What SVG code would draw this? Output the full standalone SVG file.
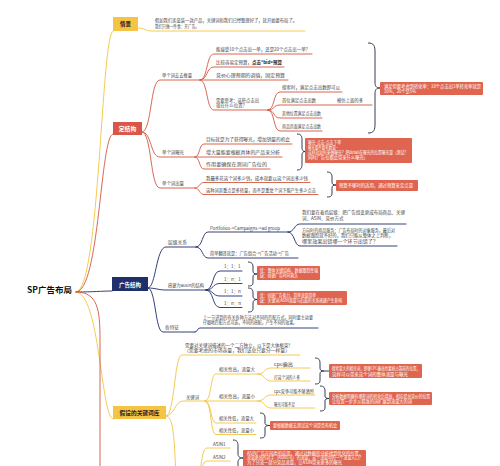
<svg xmlns="http://www.w3.org/2000/svg" width="500" height="466" viewBox="0 0 500 466">
<style>
text{font-family:"Noto Sans CJK SC","Noto Sans",sans-serif}
.t{font-size:4.5px;fill:#444}
.w{font-size:4.3px;fill:#fff}
.bx{font-weight:bold;text-anchor:middle}
.l{fill:none;stroke-width:0.9;stroke-linecap:round}
.lr{stroke:#d4583f}
.ln{stroke:#1f2c69}
.ly{stroke:#f3c443}
.br{fill:none;stroke:#232842;stroke-width:0.9}
.cb{fill:#df6550}
</style>
<rect width="500" height="466" fill="#fff"/>
<g id="connectors">
  <path class="l ly" d="M76 292 C100 292 101 31 113 31"/>
  <path class="l lr" d="M76 292 C100 292 100 134 113 134"/>
  <path class="l ln" d="M76 292 C95 292 100 291 112 291"/>
  <path class="l ly" d="M76 292 C100 292 101 419 113 419"/>
  <path class="l lr" d="M76 292 C98 292 100 310 100 340 L100 470"/>
  <path class="l ly" d="M138 28 C145 28 145 31 152 31 L305 31"/>
  <path class="l lr" d="M142 132 C152 132 150 80 160 80 L200 80"/>
  <path class="l lr" d="M142 132 C152 132 150 157 160 157 L195 157"/>
  <path class="l lr" d="M142 132 C152 132 150 188 160 188 L195 188"/>
  <path class="l lr" d="M200 80 C208 80 206 54 214 54 L312 54"/>
  <path class="l lr" d="M200 80 C208 80 206 67 214 67 L284 67"/>
  <path class="l lr" d="M200 80 L288 80"/>
  <path class="l lr" d="M200 80 C208 80 206 110 214 110 L268 110"/>
  <path class="l lr" d="M268 110 C275 110 273 92 280 92 L342 92"/>
  <path class="l lr" d="M268 110 C275 110 273 105 280 105 L372 105"/>
  <path class="l lr" d="M268 110 C275 110 273 118 280 118 L322 118"/>
  <path class="l lr" d="M268 110 C275 110 273 131 280 131 L322 131"/>
  <path class="l lr" d="M195 157 C200 157 199 144 204 144 L292 144"/>
  <path class="l lr" d="M195 157 L282 157"/>
  <path class="l lr" d="M195 157 C200 157 199 169 204 169 L270 169"/>
  <path class="l lr" d="M195 188 C200 188 199 182.5 204 182.5 L310 182.5"/>
  <path class="l lr" d="M195 188 C200 188 199 194.5 204 194.5 L318 194.5"/>
  <path class="l ln" d="M148 288 C156 288 156 247 166 247 L196 247"/>
  <path class="l ln" d="M148 288 C156 288 158 290 166 290 L206 290"/>
  <path class="l ln" d="M148 288 C156 288 155 332 163 332 L195 332"/>
  <path class="l ln" d="M196 247 C203 247 202 232 208 232 L288 232"/>
  <path class="l ln" d="M196 247 C203 247 202 258 208 258 L298 258"/>
  <path class="l ln" d="M288 232 C295 232 294 224 300 224 L406 224"/>
  <path class="l ln" d="M288 232 C295 232 294 246 300 246 L397 246"/>
  <path class="l ln" d="M206 290 C214 290 212 271 220 271 L242 271"/>
  <path class="l ln" d="M206 290 C214 290 212 283.5 220 283.5 L242 283.5"/>
  <path class="l ln" d="M206 290 C214 290 212 296 220 296 L242 296"/>
  <path class="l ln" d="M206 290 C214 290 212 307.5 220 307.5 L242 307.5"/>
  <path class="l ln" d="M195 332 C198 332 197 328 200 328 L318 328"/>
  <path class="l ly" d="M166 416 C175 416 174 355 182 355 L300 355"/>
  <path class="l ly" d="M166 416 C174 416 175 401 183 401 L205 401"/>
  <path class="l ly" d="M166 416 C174 416 174 440 176 475"/>
  <path class="l ly" d="M205 401 C212 401 210 374 216 374 L258 374"/>
  <path class="l ly" d="M205 401 L258 401"/>
  <path class="l ly" d="M205 401 C212 401 210 423 216 423 L256 423"/>
  <path class="l ly" d="M205 401 C212 401 210 434.5 216 434.5 L256 434.5"/>
  <path class="l ly" d="M258 374 C265 374 264 368 271 368 L310 368"/>
  <path class="l ly" d="M258 374 C265 374 264 381 271 381 L310 381"/>
  <path class="l ly" d="M258 401 C265 401 264 395 271 395 L315 395"/>
  <path class="l ly" d="M258 401 C265 401 264 408 271 408 L315 408"/>
  <path class="l ly" d="M195 482 C202 482 200 448 207 448 L230 448"/>
  <path class="l ly" d="M195 482 C202 482 200 461 207 461 L230 461"/>
  <path class="br" d="M368 43 C374 43 375 46 375 52 L375 82 C375 86 376 88 380 88 C376 88 375 90 375 94 L375 124 C375 130 374 133 368 133"/>
  <path class="br" d="M297 134 C301 134 302 136 302 140 L302 148 C302 150 303 151.5 305 151.5 C303 151.5 302 153 302 155 L302 164 C302 168 301 170 297 170"/>
  <path class="br" d="M327 172 C331 172 332 174 332 177 L332 182 C332 184 333 185 336 185 C333 185 332 186 332 188 L332 193 C332 196 331 197 327 197"/>
  <path class="br" d="M248 262 C252 262 253 264 253 267 L253 271 C253 273 254 274 257 274 C254 274 253 275 253 277 L253 282 C253 285 252 286 248 286"/>
  <path class="br" d="M248 288 C252 288 253 290 253 293 L253 296 C253 298 254 299.5 257 299.5 C254 299.5 253 301 253 303 L253 308 C253 311 252 312 248 312"/>
  <path class="br" d="M315 358 C319 358 320 360 320 363 L320 368 C320 370 321 371 324 371 L329 371 M324 371 C321 371 320 372 320 374 L320 380 C320 383 319 384 315 384"/>
  <path class="br" d="M320 386 C324 386 325 388 325 391 L325 396 C325 397.5 326 398.5 329 398.5 C326 398.5 325 399.5 325 401 L325 407 C325 410 324 411 320 411"/>
  <path class="br" d="M260 413 C264 413 265 415 265 418 L265 423 C265 424.5 266 425.5 270 425.5 C266 425.5 265 426.5 265 428 L265 434 C265 437 264 438 260 438"/>
  <path class="br" d="M233 440 C237 440 238 442 238 446 L238 454 C238 456 239 458 243 458 C239 458 238 460 238 462 L238 470 C238 474 237 476 233 476"/>
</g>
<g id="root"><text x="27" y="293" font-size="8.5" font-weight="bold" fill="#111">SP广告布局</text></g>
<g id="n-qingjing">
  <rect x="113" y="17" width="25" height="14" fill="#f6c444"/>
  <text class="bx" x="125.5" y="26" font-size="5.5" fill="#222">情景</text>
  <text class="t" x="155" y="22" textLength="142" lengthAdjust="spacingAndGlyphs">假如我们卖童装一款产品，关键词和我们已经整理好了，就开始要布局了。</text>
  <text class="t" x="155" y="27.5" textLength="44" lengthAdjust="spacingAndGlyphs">我们只做一件事：开广告。</text>
</g>
<g id="n-dingjiegou">
  <rect x="113" y="122" width="29" height="13" fill="#d9574a"/>
  <text class="bx" x="127.5" y="130.5" font-size="5.8" fill="#fff">定结构</text>
</g>
<g id="n-tuiliang">
  <text class="t" x="162" y="77" textLength="30" lengthAdjust="spacingAndGlyphs">单个词去去推量</text>
  <text class="t" x="216" y="51" textLength="94" lengthAdjust="spacingAndGlyphs">能接受10个点击出一单，还是20个点击出一单？</text>
  <text class="t" x="216" y="64" textLength="66" lengthAdjust="spacingAndGlyphs">比较容易定预算，<tspan font-weight="bold" fill="#222">点击*bid=预算</tspan></text>
  <text class="t" x="216" y="77" textLength="69" lengthAdjust="spacingAndGlyphs">竞价心理预期的调值，固定预算</text>
  <text class="t" x="216" y="101.5" textLength="43" lengthAdjust="spacingAndGlyphs">需要思考：这些点击出</text>
  <text class="t" x="216" y="107" textLength="31" lengthAdjust="spacingAndGlyphs">现在什么位置？</text>
  <text class="t" x="282" y="89" textLength="58" lengthAdjust="spacingAndGlyphs">搜索时，满足点击出数即可以</text>
  <text class="t" x="282" y="102" textLength="34" lengthAdjust="spacingAndGlyphs">首位满足点击出数</text>
  <text class="t" x="337" y="102" textLength="26" lengthAdjust="spacingAndGlyphs">模仿上面的多</text>
  <text class="t" x="282" y="115" textLength="39" lengthAdjust="spacingAndGlyphs">其他位置满足点击出数</text>
  <text class="t" x="282" y="128" textLength="39" lengthAdjust="spacingAndGlyphs">商品页面满足点击出数</text>
  <rect class="cb" x="380" y="82" width="103" height="13" rx="1"/>
  <text class="w" x="384" y="87.5" textLength="97" lengthAdjust="spacingAndGlyphs">满足但要考虑到转化率：10个点击出1单转化率就是</text>
  <text class="w" x="384" y="93" textLength="32" lengthAdjust="spacingAndGlyphs">10%，20个是5%</text>
</g>
<g id="n-baoguang">
  <text class="t" x="162" y="154" textLength="22" lengthAdjust="spacingAndGlyphs">单个词曝光</text>
  <text class="t" x="206" y="141" textLength="84" lengthAdjust="spacingAndGlyphs">目标就是为了获得曝光，增加销量的机会</text>
  <text class="t" x="206" y="154" textLength="74" lengthAdjust="spacingAndGlyphs">增大量能要根据具体的产品来分析</text>
  <text class="t" x="206" y="166" textLength="61" lengthAdjust="spacingAndGlyphs">作用要确保在测词广告位的</text>
  <rect class="cb" x="305" y="138" width="107" height="25" rx="1"/>
  <text class="w" x="308" y="143.5" textLength="33" lengthAdjust="spacingAndGlyphs">曝光-点击-点击下单</text>
  <text class="w" x="308" y="148.5" textLength="30" lengthAdjust="spacingAndGlyphs">曝光要不要有数量--</text>
  <text class="w" x="308" y="153.5" textLength="100" lengthAdjust="spacingAndGlyphs">这样就如何来做曝光？把detail在曝光的位置曝光量（测试？</text>
  <text class="w" x="308" y="158.5" textLength="60" lengthAdjust="spacingAndGlyphs">同时广告位都会带来什么曝光）</text>
</g>
<g id="n-chuliang">
  <text class="t" x="162" y="185" textLength="22" lengthAdjust="spacingAndGlyphs">单个词出量</text>
  <text class="t" x="206" y="179.5" textLength="102" lengthAdjust="spacingAndGlyphs">我最多花这个词多少钱，成本就要以这个词出多少钱</text>
  <text class="t" x="206" y="191.5" textLength="110" lengthAdjust="spacingAndGlyphs">这种词其重点是多转量，而不是重复个词下能产生多少点击</text>
  <rect class="cb" x="336" y="180" width="82" height="11" rx="1"/>
  <text class="w" x="339" y="187" textLength="74" lengthAdjust="spacingAndGlyphs">预算不够时的适用，通过预算来定点量</text>
</g>
<g id="n-guanggaojiegou">
  <rect x="112" y="277" width="36" height="14" fill="#1e2f6b"/>
  <text class="bx" x="130" y="286.5" font-size="5.5" fill="#fff">广告结构</text>
</g>
<g id="n-cengji">
  <text class="t" x="168" y="244" textLength="19" lengthAdjust="spacingAndGlyphs">层级关系</text>
  <text class="t" x="210" y="229.5" textLength="70" lengthAdjust="spacingAndGlyphs">Portfolios-&gt;Campaigns-&gt;ad group</text>
  <text class="t" x="210" y="255" textLength="79" lengthAdjust="spacingAndGlyphs">简单翻译就是：广告组合-&gt;广告活动-&gt;广告</text>
  <text class="t" x="302" y="214" textLength="103" lengthAdjust="spacingAndGlyphs">我们要在着色层级：把广告组变更成布局商品、关键</text>
  <text class="t" x="302" y="219.5">词、ASIN、竞价方式</text>
  <text class="t" x="302" y="231.5" textLength="93" lengthAdjust="spacingAndGlyphs">方向时的商品服务：广告布局时的对象服务，最后对</text>
  <text class="t" x="302" y="237" textLength="91" lengthAdjust="spacingAndGlyphs">数据跟踪就不好的，我们只能从整体之上判断，</text>
  <text class="t" x="302" y="242.5" textLength="76" lengthAdjust="spacingAndGlyphs">哪里效果出错哪一个环节出错了？</text>
</g>
<g id="n-asin-structure">
  <text class="t" x="168" y="287" textLength="36" lengthAdjust="spacingAndGlyphs">搭建为ausin的结构</text>
  <text class="t" x="224" y="268">1：1：1</text>
  <text class="t" x="224" y="280.5">1：n：1</text>
  <text class="t" x="224" y="293">1：1：n</text>
  <text class="t" x="224" y="304.5">1：n：n</text>
  <rect class="cb" x="257" y="266" width="63" height="14" rx="1"/>
  <text class="w" x="260" y="271.5" textLength="58" lengthAdjust="spacingAndGlyphs">优：整体关键结构，数据跟踪性强</text>
  <text class="w" x="260" y="277" textLength="38" lengthAdjust="spacingAndGlyphs">缺：创建广告时间耗久</text>
  <rect class="cb" x="257" y="291" width="90" height="14" rx="1"/>
  <text class="w" x="260" y="296.5" textLength="56" lengthAdjust="spacingAndGlyphs">优：创建广告省力，简单流量简单</text>
  <text class="w" x="260" y="302" textLength="82" lengthAdjust="spacingAndGlyphs">缺：关键词/ASIN流量与后面的关系搭建产生影响</text>
</g>
<g id="n-tezheng">
  <text class="t" x="165" y="329" textLength="14" lengthAdjust="spacingAndGlyphs">各特征</text>
  <text class="t" x="203" y="318.5" textLength="110" lengthAdjust="spacingAndGlyphs">上一节讲到的有关各种方法对不同的匹配方式，同时要主动要</text>
  <text class="t" x="203" y="324" textLength="94" lengthAdjust="spacingAndGlyphs">仔细地匹配方式可选，不同的搭配，产生不同的效果。</text>
</g>
<g id="n-ciku">
  <rect x="113" y="406" width="53" height="13" fill="#f6c444"/>
  <text class="bx" x="139.5" y="414.5" font-size="5.7" fill="#222">假设的关键词库</text>
  <text class="t" x="185" y="346.5" textLength="108" lengthAdjust="spacingAndGlyphs">需要对关键词描述的一个二方独立，以下是大体框架！</text>
  <text class="t" x="184" y="352" textLength="106" lengthAdjust="spacingAndGlyphs">（需要考虑的市场容量，我们该总只要分一样量）</text>
</g>
<g id="n-guanjianci">
  <text class="t" x="186" y="398.5" textLength="13" lengthAdjust="spacingAndGlyphs">关键词</text>
  <text class="t" x="219" y="371" textLength="36" lengthAdjust="spacingAndGlyphs">相关性高，流量大</text>
  <text class="t" x="219" y="398" textLength="36" lengthAdjust="spacingAndGlyphs">相关性高，流量小</text>
  <text class="t" x="219" y="420" textLength="35" lengthAdjust="spacingAndGlyphs">相关性低，流量大</text>
  <text class="t" x="219" y="431.5" textLength="35" lengthAdjust="spacingAndGlyphs">相关性低，流量小</text>
  <text class="t" x="274" y="365.5" textLength="19" lengthAdjust="spacingAndGlyphs">cpc偏高</text>
  <text class="t" x="274" y="378.5" textLength="26" lengthAdjust="spacingAndGlyphs">打这个词的人多</text>
  <text class="t" x="274" y="392.5" textLength="40" lengthAdjust="spacingAndGlyphs">cpc竞争可能不够激烈</text>
  <text class="t" x="274" y="405.5" textLength="21" lengthAdjust="spacingAndGlyphs">曝光可能不足</text>
  <rect class="cb" x="329" y="364" width="93" height="14" rx="1"/>
  <text class="w" x="332" y="369.5" textLength="88" lengthAdjust="spacingAndGlyphs">搜索量大的相关词，即便CPC偏高也要抢占靠前的位置，</text>
  <text class="w" x="332" y="375.5" textLength="76" lengthAdjust="spacingAndGlyphs">这样可以带来这个词的整体流量与曝光</text>
  <rect class="cb" x="329" y="392" width="103" height="13" rx="1"/>
  <text class="w" x="332" y="397.5" textLength="98" lengthAdjust="spacingAndGlyphs">分析数据明确有哪些词的转化后增益，相应提高竞价的位置</text>
  <text class="w" x="332" y="403" textLength="80" lengthAdjust="spacingAndGlyphs">让位置一步步从精准的词扩展到流量大的词</text>
  <rect class="cb" x="270" y="421" width="70" height="9" rx="1"/>
  <text class="w" x="273" y="427" textLength="64" lengthAdjust="spacingAndGlyphs">要根据数据去测试这个词是否有机会</text>
</g>
<g id="n-asin">
  <text class="t" x="213" y="446">ASIN1</text>
  <text class="t" x="213" y="458.5">ASIN2</text>
  <rect class="cb" x="243" y="450" width="123" height="20" rx="1"/>
  <text class="w" x="247" y="454.5" textLength="116" lengthAdjust="spacingAndGlyphs">ASIN广告在同类的应用，通过对数据的分析找到优化的位置，</text>
  <text class="w" x="247" y="459.2" textLength="116" lengthAdjust="spacingAndGlyphs">流量更高的对手（ASIN1号）的流量，这个流量中的一个流量入口？</text>
  <text class="w" x="247" y="463.8" textLength="95" lengthAdjust="spacingAndGlyphs">为了分流一部分竞品流量，让ASIN带来更多的曝光</text>
</g>
</svg>
